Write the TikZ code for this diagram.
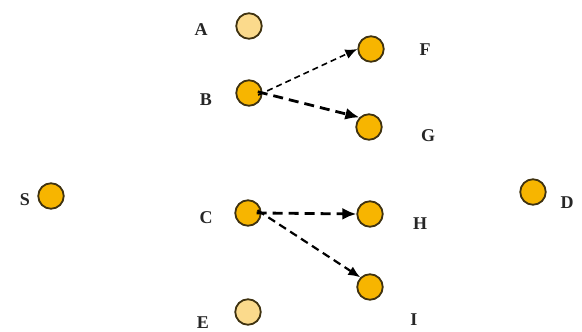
\documentclass[tikz,border=0pt]{standalone}
\usepackage{fontspec}
\setmainfont{Liberation Serif}
\usetikzlibrary{arrows.meta}
\definecolor{dotfill}{HTML}{F7B500}
\definecolor{dotlight}{HTML}{FBDA8C}
\definecolor{dotline}{HTML}{3F3210}
\begin{document}
\begin{tikzpicture}[x=1pt,y=-1pt,
  dot/.style={circle,draw=dotline,line width=1.8pt,fill=dotfill,minimum size=25.5pt,inner sep=0pt},
  lightdot/.style={dot,fill=dotlight},
  lbl/.style={font=\fontsize{18}{18}\selectfont\bfseries,text=black!85,inner sep=0pt},
  thinarrow/.style={-{Latex[length=12pt,width=10pt]},dash pattern=on 6pt off 4pt,line width=1.6pt,shorten <=-5pt},
  thickarrow/.style={-{Latex[length=14pt,width=12pt]},dash pattern=on 10pt off 6pt,line width=2.8pt,shorten <=-5pt}]
\useasboundingbox (0,0) rectangle (582,332);
\node[lightdot] (A) at (249,26) {};
\node[dot] (B) at (249,93) {};
\node[dot] (F) at (371,49) {};
\node[dot] (G) at (369,127) {};
\node[dot] (S) at (51,196) {};
\node[dot] (C) at (248,213) {};
\node[dot] (H) at (370,214) {};
\node[dot] (I) at (370,287) {};
\node[lightdot] (E) at (248,312) {};
\node[dot] (D) at (533,192) {};
\node[lbl] (lA) at (201,30) {A};
\node[lbl] (lB) at (206,100) {B};
\node[lbl] (lF) at (425,50) {F};
\node[lbl] (lG) at (428,136) {G};
\node[lbl] (lS) at (25,200) {S};
\node[lbl] (lC) at (206,218) {C};
\node[lbl] (lH) at (420,224) {H};
\node[lbl] (lI) at (414,320) {I};
\node[lbl] (lE) at (203,323) {E};
\node[lbl] (lD) at (567,203) {D};
\draw[thinarrow] (B.east) -- (F.west);
\draw[thickarrow] (B.east) -- (G.north west);
\draw[thickarrow] (C.east) -- (H.west);
\draw[thinarrow,line width=2.2pt,dash pattern=on 8pt off 5pt] (C.east) -- (I.north west);
\end{tikzpicture}
\end{document}
